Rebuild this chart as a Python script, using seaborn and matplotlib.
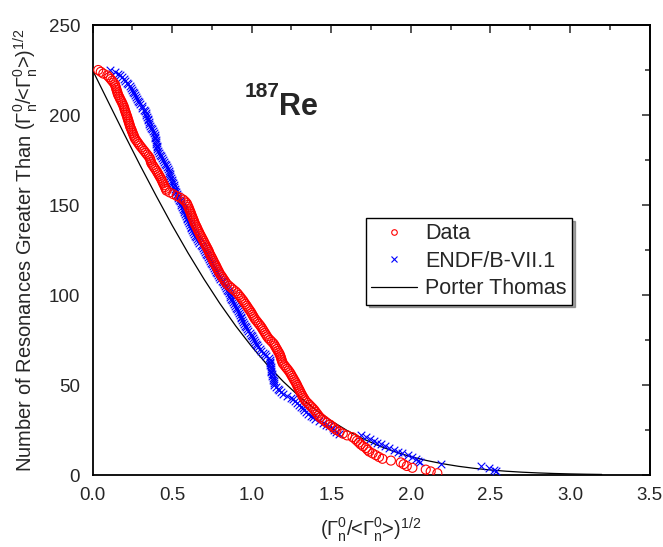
import numpy as np
import pandas as pd
import matplotlib
matplotlib.use("Agg")
import matplotlib.pyplot as plt
from matplotlib.lines import Line2D
from matplotlib.ticker import MultipleLocator, FormatStrFormatter
import seaborn as sns

# ---- data ----
# x values of the measured resonances (rank 225 ... 1)
data_x = [
    0.036, 0.052, 0.068, 0.093, 0.104, 0.114, 0.123, 0.132, 0.141, 0.144,
    0.148, 0.151, 0.155, 0.158, 0.162, 0.168, 0.173, 0.179, 0.185, 0.190,
    0.195, 0.199, 0.202, 0.206, 0.210, 0.214, 0.218, 0.221, 0.225, 0.228,
    0.232, 0.235, 0.239, 0.244, 0.248, 0.253, 0.257, 0.262, 0.266, 0.274,
    0.282, 0.290, 0.298, 0.307, 0.316, 0.325, 0.334, 0.343, 0.352, 0.360,
    0.364, 0.367, 0.371, 0.379, 0.386, 0.394, 0.402, 0.408, 0.415, 0.421,
    0.428, 0.434, 0.439, 0.444, 0.450, 0.455, 0.460, 0.465, 0.485, 0.508,
    0.530, 0.552, 0.570, 0.582, 0.592, 0.597, 0.602, 0.607, 0.611, 0.616,
    0.620, 0.624, 0.629, 0.633, 0.638, 0.642, 0.647, 0.653, 0.658, 0.663,
    0.669, 0.674, 0.680, 0.686, 0.692, 0.698, 0.703, 0.709, 0.715, 0.721,
    0.727, 0.732, 0.736, 0.742, 0.748, 0.754, 0.759, 0.765, 0.771, 0.777,
    0.782, 0.788, 0.794, 0.799, 0.807, 0.815, 0.822, 0.830, 0.837, 0.846,
    0.859, 0.872, 0.885, 0.899, 0.910, 0.919, 0.928, 0.937, 0.946, 0.953,
    0.961, 0.969, 0.976, 0.984, 0.992, 0.999, 1.005, 1.012, 1.018, 1.027,
    1.036, 1.045, 1.054, 1.062, 1.069, 1.076, 1.083, 1.090, 1.097, 1.105,
    1.116, 1.127, 1.138, 1.145, 1.151, 1.158, 1.164, 1.171, 1.177, 1.181,
    1.185, 1.188, 1.192, 1.196, 1.205, 1.214, 1.223, 1.232, 1.240, 1.247,
    1.253, 1.260, 1.266, 1.273, 1.279, 1.285, 1.290, 1.296, 1.302, 1.307,
    1.313, 1.319, 1.326, 1.333, 1.340, 1.352, 1.363, 1.374, 1.385, 1.395,
    1.403, 1.412, 1.420, 1.430, 1.444, 1.459, 1.473, 1.492, 1.506, 1.520,
    1.533, 1.553, 1.573, 1.600, 1.634, 1.650, 1.662, 1.674, 1.685, 1.700,
    1.718, 1.728, 1.739, 1.760, 1.781, 1.800, 1.822, 1.875, 1.937, 1.955,
    1.975, 2.010, 2.094, 2.125, 2.167,
]
data_n = list(range(225, 0, -1))

endf_x = [
    0.110, 0.141, 0.160, 0.172, 0.184, 0.195, 0.207, 0.216, 0.226, 0.235,
    0.245, 0.251, 0.257, 0.263, 0.268, 0.274, 0.280, 0.287, 0.294, 0.301,
    0.308, 0.314, 0.321, 0.328, 0.335, 0.339, 0.343, 0.346, 0.350, 0.354,
    0.358, 0.361, 0.365, 0.372, 0.378, 0.385, 0.392, 0.394, 0.395, 0.397,
    0.398, 0.400, 0.403, 0.405, 0.408, 0.410, 0.418, 0.425, 0.432, 0.439,
    0.444, 0.449, 0.454, 0.460, 0.467, 0.473, 0.480, 0.483, 0.487, 0.490,
    0.493, 0.497, 0.500, 0.504, 0.509, 0.513, 0.517, 0.521, 0.526, 0.530,
    0.535, 0.540, 0.545, 0.550, 0.554, 0.559, 0.564, 0.569, 0.573, 0.578,
    0.582, 0.587, 0.591, 0.596, 0.600, 0.605, 0.611, 0.616, 0.621, 0.626,
    0.632, 0.637, 0.642, 0.649, 0.657, 0.664, 0.672, 0.679, 0.687, 0.694,
    0.701, 0.707, 0.714, 0.721, 0.727, 0.734, 0.741, 0.747, 0.753, 0.759,
    0.764, 0.770, 0.776, 0.782, 0.788, 0.796, 0.803, 0.811, 0.818, 0.826,
    0.833, 0.841, 0.846, 0.851, 0.856, 0.862, 0.867, 0.872, 0.877, 0.882,
    0.888, 0.894, 0.900, 0.906, 0.912, 0.918, 0.924, 0.930, 0.936, 0.942,
    0.948, 0.954, 0.960, 0.966, 0.973, 0.980, 0.987, 0.994, 1.001, 1.008,
    1.015, 1.022, 1.029, 1.036, 1.043, 1.050, 1.060, 1.071, 1.081, 1.091,
    1.112, 1.113, 1.115, 1.116, 1.118, 1.119, 1.120, 1.122, 1.124, 1.127,
    1.129, 1.132, 1.135, 1.138, 1.140, 1.143, 1.153, 1.164, 1.175, 1.185,
    1.196, 1.222, 1.248, 1.261, 1.274, 1.287, 1.300, 1.311, 1.321, 1.332,
    1.342, 1.356, 1.371, 1.385, 1.400, 1.423, 1.446, 1.467, 1.488, 1.509,
    1.520, 1.530, 1.550, 1.687, 1.720, 1.745, 1.770, 1.790, 1.812, 1.835,
    1.865, 1.895, 1.920, 1.947, 1.980, 2.010, 2.030, 2.045, 2.060, 2.188,
    2.439, 2.490, 2.522, 2.535,
]
endf_n = list(range(225, 225 - len(endf_x), -1))

pt_x = [0.0, 0.1, 0.2, 0.3, 0.4, 0.5, 0.6, 0.7, 0.8, 0.9, 1.0, 1.1, 1.2, 1.3,
        1.4, 1.5, 1.6, 1.7, 1.8, 1.9, 2.0, 2.1, 2.2, 2.3, 2.4, 2.5, 2.6, 2.7,
        2.8, 2.9, 3.0, 3.1, 3.2]
pt_n = [225.0, 207.1, 189.3, 171.9, 155.1, 138.8, 123.4, 108.9, 95.3, 82.8,
        71.4, 61.0, 51.8, 43.6, 36.3, 30.1, 24.7, 20.1, 16.2, 12.9, 10.2,
        8.04, 6.26, 4.83, 3.69, 2.79, 2.10, 1.56, 1.15, 0.84, 0.61, 0.44, 0.31]

labels = ["Data", "ENDF/B-VII.1", "Porter Thomas"]

# ---- style ----
sns.set_theme(style="white")
plt.rcParams["font.family"] = ["Liberation Sans", "DejaVu Sans"]
plt.rcParams["mathtext.fontset"] = "custom"
plt.rcParams["mathtext.rm"] = "Liberation Sans"
plt.rcParams["mathtext.it"] = "Liberation Sans"
plt.rcParams["mathtext.bf"] = "Liberation Sans:bold"

fig = plt.figure(figsize=(6.63, 5.47), dpi=100)
ax = fig.add_axes([92.5 / 663, 1 - 475 / 547, 557 / 663, 450 / 547])

df_data = pd.DataFrame({"x": data_x, "n": data_n})
df_endf = pd.DataFrame({"x": endf_x, "n": endf_n})
df_pt = pd.DataFrame({"x": pt_x, "n": pt_n})

sns.lineplot(data=df_pt, x="x", y="n", ax=ax, color="black", lw=0.9,
             zorder=2, legend=False)
sns.scatterplot(data=df_endf, x="x", y="n", ax=ax, marker="x", color="#0000ff",
                s=30, linewidth=0.8, zorder=3, legend=False)
sns.scatterplot(data=df_data, x="x", y="n", ax=ax, marker="o",
                facecolor="none", edgecolor="#ff0000", s=42, linewidth=0.8,
                zorder=4, legend=False)

ax.set_xlim(0, 3.5)
ax.set_ylim(0, 250)
ax.xaxis.set_major_locator(MultipleLocator(0.5))
ax.xaxis.set_minor_locator(MultipleLocator(0.25))
ax.yaxis.set_major_locator(MultipleLocator(50))
ax.yaxis.set_minor_locator(MultipleLocator(25))
ax.xaxis.set_major_formatter(FormatStrFormatter("%.1f"))
ax.tick_params(which="major", direction="out", length=6, width=1.1,
               labelsize=13.5, color="black", pad=3)
ax.tick_params(which="minor", direction="out", length=3.5, width=1.1,
               color="black")
for s in ax.spines.values():
    s.set_linewidth(1.3)
    s.set_color("black")
    s.set_visible(True)

top = ax.secondary_xaxis("top")
top.xaxis.set_major_locator(MultipleLocator(0.5))
top.xaxis.set_minor_locator(MultipleLocator(0.25))
top.tick_params(which="major", direction="in", length=6, width=1.1, labeltop=False)
top.tick_params(which="minor", direction="in", length=3.5, width=1.1)
top.spines["top"].set_linewidth(1.3)
right = ax.secondary_yaxis("right")
right.yaxis.set_major_locator(MultipleLocator(50))
right.yaxis.set_minor_locator(MultipleLocator(25))
right.tick_params(which="major", direction="in", length=6, width=1.1, labelright=False)
right.tick_params(which="minor", direction="in", length=3.5, width=1.1)
right.spines["right"].set_linewidth(1.3)

ratio = "(Γ$_n^0$/<Γ$_n^0$>)$^{1/2}$"
ax.set_xlabel(ratio, fontsize=14.5, labelpad=8)
ax.set_ylabel("Number of Resonances Greater Than " + ratio,
              fontsize=14.5, labelpad=6)

ax.text(0.2731, 0.839, "187", transform=ax.transAxes, fontsize=15,
        fontweight="bold", ha="left", va="baseline")
ax.text(0.3357, 0.80, "Re", transform=ax.transAxes, fontsize=22,
        fontweight="bold", ha="left", va="baseline")

handles = [
    Line2D([], [], marker="o", ls="none", mfc="none", mec="#ff0000", ms=4, mew=0.8),
    Line2D([], [], marker="x", ls="none", color="#0000ff", ms=4, mew=0.8),
    Line2D([], [], color="black", lw=0.9),
]
leg = ax.legend(handles, labels, loc="upper left",
                bbox_to_anchor=((366 - 92.5) / 557, (475 - 218) / 450),
                prop={"size": 15.5}, frameon=True, fancybox=False, shadow=True,
                edgecolor="black", handlelength=2.1, borderpad=0.25,
                labelspacing=0.3, handletextpad=0.4, borderaxespad=0)
leg.get_frame().set_linewidth(1.0)

fig.savefig("out.png", dpi=100)
